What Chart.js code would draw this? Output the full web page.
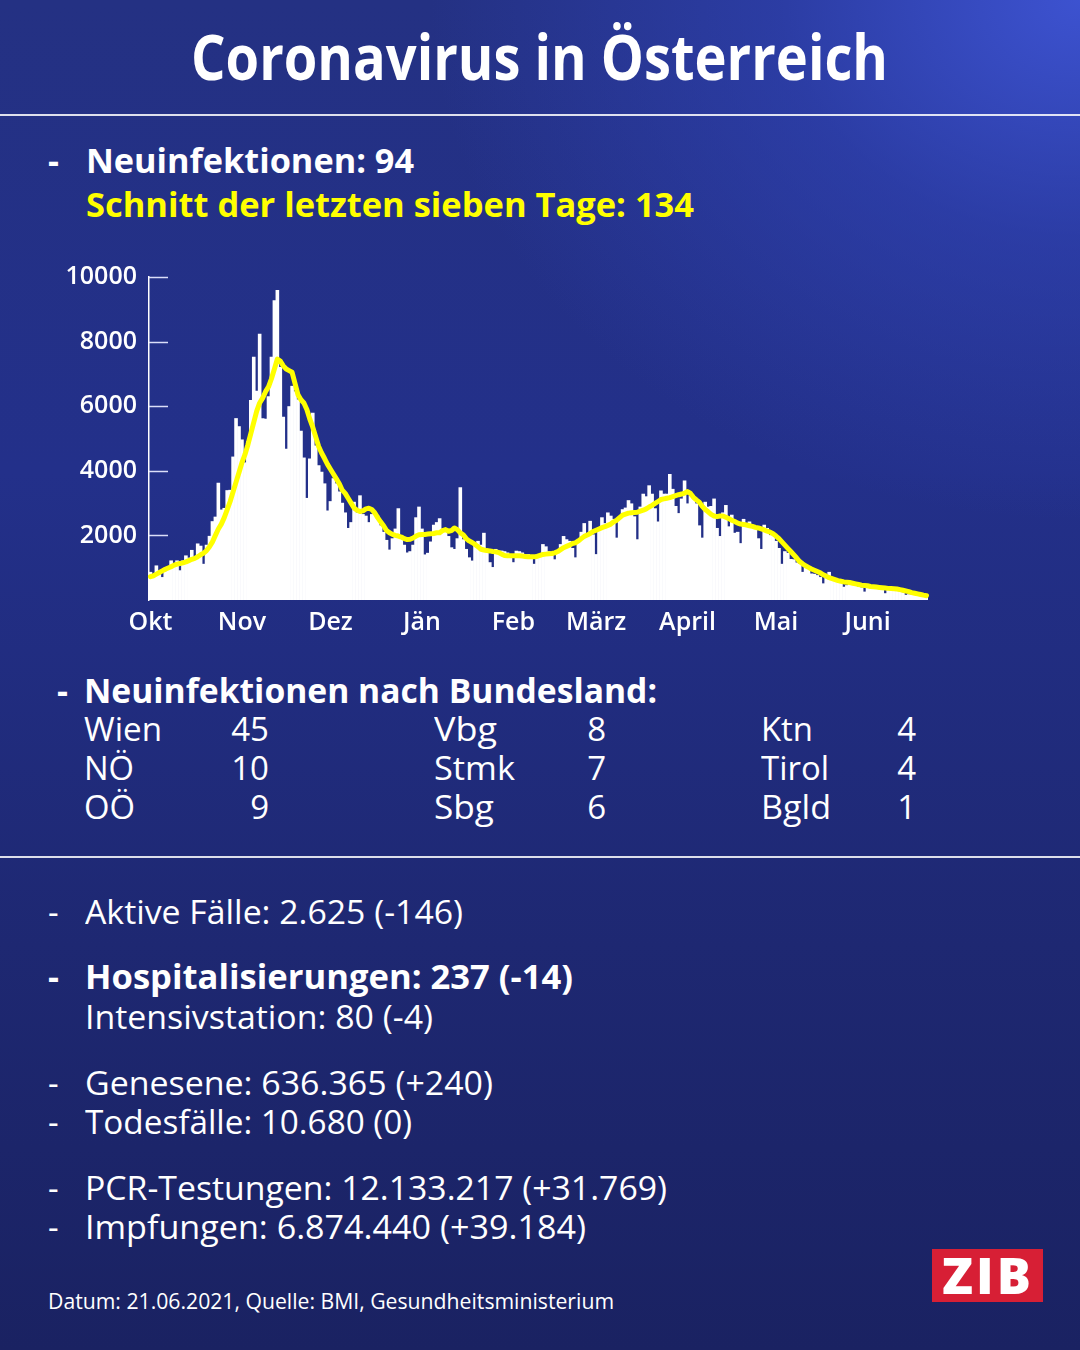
<!DOCTYPE html>
<html><head><meta charset="utf-8">
<script src="https://cdn.jsdelivr.net/npm/chart.js@4.4.0/dist/chart.umd.min.js"></script>
<style>
html,body{margin:0;padding:0;}
body{width:1080px;height:1350px;overflow:hidden;position:relative;
 background:
  radial-gradient(ellipse 1000px 800px at 100% 0%, rgba(62,84,212,0.95) 0%, rgba(50,70,190,0.55) 30%, rgba(40,55,160,0) 65%),
  linear-gradient(180deg,#243183 0%,#23308a 35%,#1e2872 70%,#1a2262 100%);
 font-family:"Open Sans",sans-serif;color:#fff;}
.t{position:absolute;white-space:nowrap;line-height:1;transform-origin:0 0;}
.hr{position:absolute;left:0;width:1080px;height:1.5px;background:rgba(255,255,255,0.85);}
#cwrap{position:absolute;left:30px;top:250px;width:920px;height:400px;}
#zib{position:absolute;left:932px;top:1249px;width:111px;height:53px;background:#d71f35;}
</style></head>
<body>
<div class="hr" style="top:114px"></div>
<div class="hr" style="top:856px"></div>
<div id="cwrap"><canvas id="c" width="920" height="400"></canvas></div>
<div id="zib"></div>
<script>
// ---- data ----
const monthLabels = ['Okt','Nov','Dez','Jän','Feb','März','April','Mai','Juni'];
const monthStart  = [0,31,61,92,123,151,182,212,243];
const yTicks = [2000,4000,6000,8000,10000];
const dailyCases = [
 860,760,1060,900,700,880,950,1215,1050,1215,
 910,1215,1370,1300,1540,1320,1740,1670,1110,1700,
 1975,2430,2570,3620,2790,2840,3390,3400,4430,5620,
 5370,4960,4250,4900,6180,7520,6470,8230,5620,5600,
 6300,7520,9270,9590,7200,5660,4670,5990,6620,6450,
 6200,5230,4400,3150,4370,5790,4770,4160,3960,3600,
 2760,3050,3760,3600,3350,3000,2700,2220,2400,3030,
 2700,3230,2650,2600,2400,2650,2700,2600,2300,2100,
 1850,1550,1900,2200,2830,2000,1700,1460,1500,1700,
 2550,2880,2200,1400,1450,1800,2320,2400,2520,2200,
 2200,1970,1620,1570,1900,3480,1870,1570,1310,1210,
 1670,1820,1700,2070,1570,1160,1010,1570,1500,1520,
 1500,1460,1310,1160,1515,1500,1460,1400,1410,1300,
 1110,1400,1410,1720,1650,1500,1400,1250,1450,1720,
 1970,1870,1820,1600,1310,1770,2100,2370,2020,2440,
 2020,1410,2200,2550,2370,2700,2600,2500,1920,2500,
 2800,2850,3080,2980,2580,1870,2880,3280,3200,3540,
 3280,2830,2420,3380,3280,3280,3890,3430,2900,2680,
 3130,3690,2980,3230,3130,2980,2300,1920,3030,2880,
 2900,3130,2220,1970,2700,2930,2270,2630,2070,2100,
 1750,2500,2300,2420,2250,2220,1900,1570,2320,2220,
 2000,2050,1820,1600,1110,1500,1450,1260,1250,1150,
 1110,860,1010,950,810,800,760,700,505,760,
 860,700,610,560,520,400,450,560,480,450,
 400,380,250,420,400,380,360,360,340,200,
 380,360,340,300,250,230,150,170,160,150,
 135,125,104,94
];
const avg7 = [
 720,750,800,850,900,950,990,1030,1080,1110,
 1130,1150,1180,1220,1260,1290,1340,1400,1450,1530,
 1650,1800,2000,2200,2350,2550,2800,3050,3350,3650,
 3950,4250,4500,4800,5150,5500,5850,6100,6250,6450,
 6600,6850,7150,7460,7400,7250,7150,7100,7050,6700,
 6350,6200,6100,5900,5600,5350,5050,4750,4550,4380,
 4200,4050,3900,3750,3600,3400,3300,3150,3000,2850,
 2780,2740,2760,2820,2840,2800,2700,2550,2420,2300,
 2150,2080,2030,2000,1980,1950,1900,1870,1880,1920,
 1980,2020,2030,2030,2040,2050,2060,2080,2080,2150,
 2180,2130,2150,2230,2180,2080,2020,1900,1830,1780,
 1720,1650,1570,1550,1530,1520,1500,1490,1470,1420,
 1380,1370,1370,1370,1370,1370,1360,1350,1340,1340,
 1340,1350,1380,1410,1420,1430,1440,1460,1500,1560,
 1620,1660,1700,1750,1770,1830,1900,1970,2010,2060,
 2120,2160,2200,2240,2270,2310,2350,2420,2470,2550,
 2630,2660,2690,2700,2710,2720,2750,2780,2820,2880,
 2930,2990,3050,3110,3130,3150,3170,3200,3230,3260,
 3280,3310,3360,3300,3180,3100,3030,2900,2800,2730,
 2650,2600,2580,2600,2600,2560,2520,2470,2430,2380,
 2350,2340,2320,2300,2280,2250,2230,2200,2170,2130,
 2100,2050,1980,1900,1800,1700,1600,1500,1400,1300,
 1190,1120,1060,1010,960,920,880,840,780,740,
 690,660,630,600,580,560,550,540,520,500,
 480,460,450,440,420,410,400,390,380,370,
 360,355,350,340,320,300,280,260,230,210,
 190,170,150,134
];
// categories: one per day from 1 Oct 2020
const days = [];
{ const d0 = new Date(Date.UTC(2020,9,1));
  for (let i=0;i<dailyCases.length;i++){ const d=new Date(d0.getTime()+i*86400000); days.push(d.toISOString().slice(0,10)); } }

// ---- text ----
const texts = [
 {t:'Coronavirus in Österreich', x:191, b:80, s:63, w:697, wt:700},
 {t:'-', x:48, b:173, s:34, wt:700},
 {t:'Neuinfektionen: 94', x:86, b:173, s:34, w:328, wt:700},
 {t:'Schnitt der letzten sieben Tage: 134', x:86, b:217, s:34, w:608, wt:700, c:'#ffff00'},
 {t:'-', x:57, b:703, s:34, wt:700},
 {t:'Neuinfektionen nach Bundesland:', x:84, b:703, s:34, w:573, wt:700},
 {t:'Wien', x:84, b:741, s:33, w:78}, {t:'45', r:269, b:741, s:33},
 {t:'NÖ', x:84, b:780, s:33, w:50},  {t:'10', r:269, b:780, s:33},
 {t:'OÖ', x:84, b:819, s:33, w:51},  {t:'9', r:269, b:819, s:33},
 {t:'Vbg', x:434, b:741, s:33, w:63}, {t:'8', r:606, b:741, s:33},
 {t:'Stmk', x:434, b:780, s:33, w:81}, {t:'7', r:606, b:780, s:33},
 {t:'Sbg', x:434, b:819, s:33, w:60}, {t:'6', r:606, b:819, s:33},
 {t:'Ktn', x:761, b:741, s:33, w:52}, {t:'4', r:916, b:741, s:33},
 {t:'Tirol', x:761, b:780, s:33, w:68}, {t:'4', r:916, b:780, s:33},
 {t:'Bgld', x:761, b:819, s:33, w:70}, {t:'1', r:916, b:819, s:33},
 {t:'-', x:48, b:924, s:33}, {t:'Aktive Fälle: 2.625 (-146)', x:85, b:924, s:33, w:378},
 {t:'-', x:48, b:989, s:34, wt:700}, {t:'Hospitalisierungen: 237 (-14)', x:85, b:989, s:34, w:488, wt:700},
 {t:'Intensivstation: 80 (-4)', x:85, b:1029, s:33, w:348},
 {t:'-', x:48, b:1095, s:33}, {t:'Genesene: 636.365 (+240)', x:85, b:1095, s:33, w:408},
 {t:'-', x:48, b:1134, s:33}, {t:'Todesfälle: 10.680 (0)', x:85, b:1134, s:33, w:327},
 {t:'-', x:48, b:1200, s:33}, {t:'PCR-Testungen: 12.133.217 (+31.769)', x:85, b:1200, s:33, w:582},
 {t:'-', x:48, b:1239, s:33}, {t:'Impfungen: 6.874.440 (+39.184)', x:85, b:1239, s:33, w:501},
 {t:'Datum: 21.06.2021, Quelle: BMI, Gesundheitsministerium', x:48, b:1310, s:21, w:566},
 {t:'ZIB', x:942, b:1294, s:50, w:92, wt:800, ls:3}
];
const els = texts.map(o=>{
  const e=document.createElement('div'); e.className='t'; e.textContent=o.t;
  e.style.fontSize=o.s+'px'; e.style.fontWeight=o.wt||400; e.style.color=o.c||'#fff';
  if(o.ls) e.style.letterSpacing=o.ls+'px';
  e.style.top=(o.b-0.888*o.s)+'px';
  document.body.appendChild(e); return [e,o];
});
function fit(){
  els.forEach(([e,o])=>{
    e.style.transform='none';
    const w0=e.getBoundingClientRect().width;
    const sx=o.w? o.w/w0 : 1;
    e.style.transform='scaleX('+sx+')';
    e.style.left=(o.r!==undefined ? o.r - w0*sx : o.x)+'px';
  });
}
fit();
if(document.fonts&&document.fonts.ready) document.fonts.ready.then(fit);

// ---- chart ----
const innerTicks = {id:'innerTicks', beforeDatasetsDraw(chart){
  const {ctx, chartArea, scales:{y}} = chart;
  ctx.save(); ctx.strokeStyle='rgba(230,232,255,0.95)'; ctx.lineWidth=1.5;
  y.ticks.forEach(tk=>{ if(!yTicks.includes(tk.value)) return;
    const py=Math.round(y.getPixelForValue(tk.value))+0.5;
    ctx.beginPath(); ctx.moveTo(chartArea.left,py); ctx.lineTo(chartArea.left+19,py); ctx.stroke(); });
  ctx.restore(); }};
const tickFont={family:'Open Sans', size:25, weight:'600'};
new Chart(document.getElementById('c'),{
  data:{labels:days, datasets:[
    {type:'line', data:avg7, borderColor:'#ffff00', borderWidth:5, pointRadius:0, tension:0,
     borderJoinStyle:'round', borderCapStyle:'round', order:0},
    {type:'bar', data:dailyCases, backgroundColor:'#ffffff', borderWidth:0, barPercentage:1.0, categoryPercentage:1.0, order:1}
  ]},
  options:{
    responsive:false, animation:false,
    layout:{padding:{top:21,right:22,left:0,bottom:0}},
    plugins:{legend:{display:false}, tooltip:{enabled:false}},
    scales:{
      x:{grid:{display:false,drawTicks:false}, border:{display:false},
         ticks:{autoSkip:false, maxRotation:0, minRotation:0, padding:8, color:'#fff', font:tickFont,
           callback:(v,i)=>{const k=monthStart.indexOf(i); return k>=0?monthLabels[k]:'';}},
         afterFit:(s)=>{s.height=50;}},
      y:{min:0, max:10000, grid:{display:false,drawTicks:false}, border:{display:true,color:'#ffffff',width:1.5},
         ticks:{stepSize:2000, padding:12, color:'#fff', font:tickFont,
           callback:(v)=> yTicks.includes(v)? String(v) : ''},
         afterFit:(s)=>{s.width=119;}}
    }
  },
  plugins:[innerTicks]
});
</script>
</body></html>
